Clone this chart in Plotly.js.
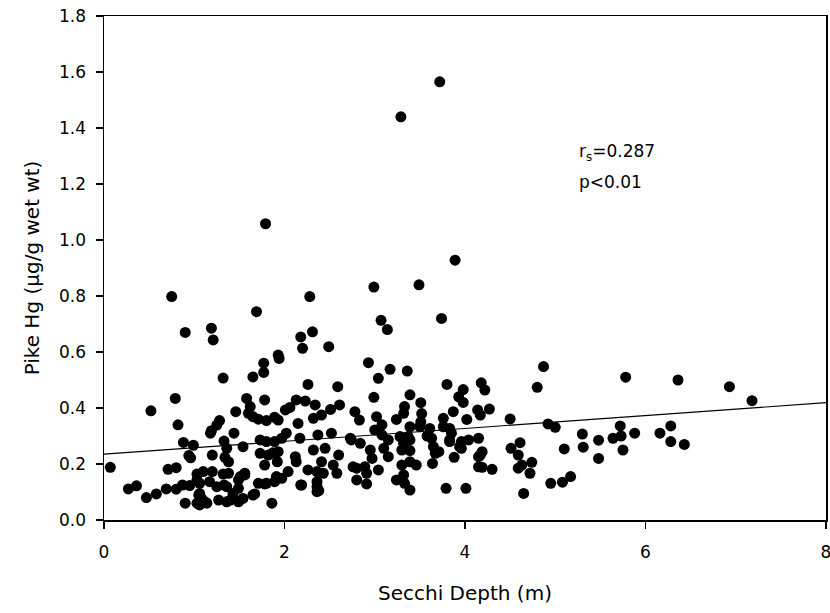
<!DOCTYPE html>
<html>
<head>
<meta charset="utf-8">
<script src="https://cdn.plot.ly/plotly-3.0.1.min.js"></script>
<style>html,body{margin:0;padding:0;background:#fff;}</style>
</head>
<body>
<div id="chart" style="width:830px;height:613px;"></div>
<script>
// Secchi depth (m)
const secchi = [
3.72,3.29,1.79,3.89,3.49,2.99,0.75,2.28,1.69,3.74,3.07,3.14,0.90,1.19,1.21,2.31,2.18,2.20,2.49,1.93,
1.94,1.77,1.77,1.65,1.32,2.93,3.17,3.36,3.04,2.26,2.59,3.80,4.87,4.80,5.78,6.36,6.93,7.18,4.18,4.22,
3.98,3.93,3.98,0.79,0.52,1.58,1.78,1.62,1.60,1.46,1.65,1.71,1.80,1.89,1.93,2.01,2.06,2.13,2.23,2.34,
2.15,2.32,2.41,2.51,2.61,2.78,2.99,3.39,3.51,3.33,3.32,3.24,2.83,3.02,3.08,3.00,3.52,3.51,3.39,3.37,
3.61,3.58,4.14,3.87,3.76,4.02,4.17,4.27,4.50,4.92,5.00,1.28,1.25,1.19,0.82,1.44,0.88,0.99,1.33,1.36,
0.94,0.96,1.20,1.34,1.54,1.73,1.80,1.89,1.97,2.02,2.17,2.37,2.52,2.73,2.45,2.32,1.73,1.82,1.93,2.12,
1.78,1.92,2.13,2.41,2.60,2.54,2.76,1.38,1.38,1.51,1.56,2.26,2.36,2.43,2.04,2.58,1.71,1.80,1.89,1.97,
2.19,2.36,2.36,1.67,1.49,1.43,1.49,1.40,1.86,2.84,3.08,3.15,3.28,3.32,3.39,3.50,3.63,3.76,3.85,3.83,
3.65,3.67,3.88,2.95,2.97,3.10,3.15,3.30,3.39,2.80,2.89,3.04,3.30,3.39,3.46,3.64,2.80,2.91,3.24,3.33,
3.39,3.79,2.18,2.36,2.38,2.74,2.91,3.32,3.83,3.83,3.94,4.04,4.15,4.15,4.15,3.71,4.01,3.96,3.96,4.19,
4.17,4.19,4.30,4.51,4.61,4.59,4.74,4.72,4.63,4.59,4.65,5.10,4.95,5.08,5.17,5.30,5.31,5.48,5.48,5.64,
5.72,5.73,5.75,5.88,6.16,6.28,6.28,6.43,0.07,0.71,0.80,0.27,0.36,0.47,0.58,0.69,0.80,0.87,0.95,1.03,
1.10,1.20,1.32,1.03,1.06,1.17,1.25,1.33,0.90,1.03,1.06,1.14,1.05,1.08,1.27,1.36,1.49,1.56,1.36,1.54,
1.12,1.06,1.65,1.78,1.91,1.87,1.18
];
// Pike Hg (ug/g wet wt)
const pikeHg = [
1.565,1.440,1.058,0.928,0.840,0.832,0.798,0.798,0.744,0.720,0.713,0.680,0.670,0.685,0.643,0.672,0.654,0.613,0.619,0.589,
0.577,0.560,0.527,0.511,0.507,0.562,0.538,0.532,0.506,0.484,0.476,0.484,0.548,0.474,0.510,0.500,0.476,0.426,0.490,0.464,
0.466,0.440,0.420,0.434,0.390,0.434,0.429,0.405,0.381,0.387,0.369,0.360,0.355,0.367,0.357,0.393,0.402,0.429,0.425,0.411,
0.345,0.363,0.375,0.395,0.411,0.387,0.438,0.447,0.419,0.405,0.381,0.359,0.357,0.369,0.340,0.321,0.380,0.350,0.333,0.298,
0.327,0.300,0.393,0.387,0.363,0.359,0.375,0.396,0.361,0.343,0.331,0.355,0.339,0.319,0.340,0.310,0.277,0.267,0.282,0.256,
0.230,0.222,0.232,0.224,0.262,0.286,0.280,0.280,0.292,0.310,0.292,0.304,0.310,0.292,0.256,0.250,0.238,0.232,0.244,0.226,
0.196,0.208,0.208,0.208,0.232,0.196,0.190,0.208,0.167,0.155,0.167,0.179,0.173,0.167,0.173,0.167,0.131,0.131,0.137,0.149,
0.125,0.119,0.101,0.093,0.113,0.095,0.065,0.071,0.060,0.274,0.304,0.286,0.298,0.274,0.286,0.333,0.292,0.333,0.310,0.280,
0.262,0.238,0.224,0.250,0.220,0.256,0.226,0.250,0.248,0.185,0.190,0.179,0.196,0.208,0.196,0.202,0.143,0.129,0.143,0.131,
0.107,0.113,0.125,0.137,0.105,0.286,0.167,0.161,0.327,0.286,0.262,0.286,0.292,0.226,0.190,0.244,0.113,0.280,0.256,0.244,
0.232,0.188,0.181,0.256,0.276,0.232,0.206,0.167,0.196,0.185,0.095,0.254,0.131,0.135,0.155,0.307,0.260,0.285,0.220,0.292,
0.336,0.300,0.250,0.310,0.310,0.336,0.280,0.270,0.188,0.181,0.187,0.111,0.122,0.080,0.093,0.111,0.110,0.125,0.123,0.164,
0.173,0.173,0.164,0.143,0.131,0.137,0.119,0.125,0.060,0.060,0.054,0.060,0.089,0.077,0.071,0.065,0.143,0.161,0.119,0.077,
0.065,0.095,0.089,0.129,0.155,0.240,0.310
];
// Fitted regression line end points
const fitX = [0, 8];
const fitY = [0.235, 0.419];
const xTicks = [0, 2, 4, 6, 8];
const yTicks = [0.0, 0.2, 0.4, 0.6, 0.8, 1.0, 1.2, 1.4, 1.6, 1.8];

const FONT = "DejaVu Sans, Arial, sans-serif";

const traces = [
  {
    x: fitX, y: fitY, type: 'scatter', mode: 'lines',
    line: {color: '#000', width: 1.2}, hoverinfo: 'skip'
  },
  {
    x: secchi, y: pikeHg, type: 'scatter', mode: 'markers',
    marker: {color: '#000', size: 11, line: {width: 0}}
  }
];

const layout = {
  width: 830, height: 613,
  margin: {l: 104, r: 4, t: 16, b: 93},
  paper_bgcolor: '#fff', plot_bgcolor: '#fff',
  showlegend: false,
  font: {family: FONT, color: '#000', size: 17},
  xaxis: {
    range: [0, 8], tickvals: xTicks, ticktext: xTicks.map(String),
    ticks: 'outside', ticklen: 7, tickwidth: 1.5, tickcolor: '#000',
    showline: true, linecolor: '#000', linewidth: 1.5, mirror: true,
    showgrid: false, zeroline: false,
    tickfont: {family: FONT, size: 17, color: '#000'},
    ticklabelstandoff: 9,
    ticklabeloverflow: 'allow',
    title: {text: 'Secchi Depth (m)', font: {family: FONT, size: 20, color: '#000'}, standoff: 25}
  },
  yaxis: {
    range: [0, 1.8], tickvals: yTicks, ticktext: yTicks.map(v => v.toFixed(1)),
    ticks: 'outside', ticklen: 7, tickwidth: 1.5, tickcolor: '#000',
    showline: true, linecolor: '#000', linewidth: 1.5, mirror: true,
    showgrid: false, zeroline: false,
    tickfont: {family: FONT, size: 17, color: '#000'},
    ticklabelstandoff: 6,
    ticklabeloverflow: 'allow',
    title: {text: 'Pike Hg (µg/g wet wt)', font: {family: FONT, size: 20, color: '#000'}, standoff: 14}
  },
  annotations: [
    {x: 5.24, y: 1.314, xref: 'x', yref: 'y', xanchor: 'left', yanchor: 'middle',
     text: 'r<sub>s</sub>=0.287', showarrow: false, font: {family: FONT, size: 17, color: '#000'}},
    {x: 5.24, y: 1.207, xref: 'x', yref: 'y', xanchor: 'left', yanchor: 'middle',
     text: 'p&lt;0.01', showarrow: false, font: {family: FONT, size: 17, color: '#000'}}
  ]
};

Plotly.newPlot('chart', traces, layout, {displayModeBar: false, staticPlot: true});
</script>
</body>
</html>
